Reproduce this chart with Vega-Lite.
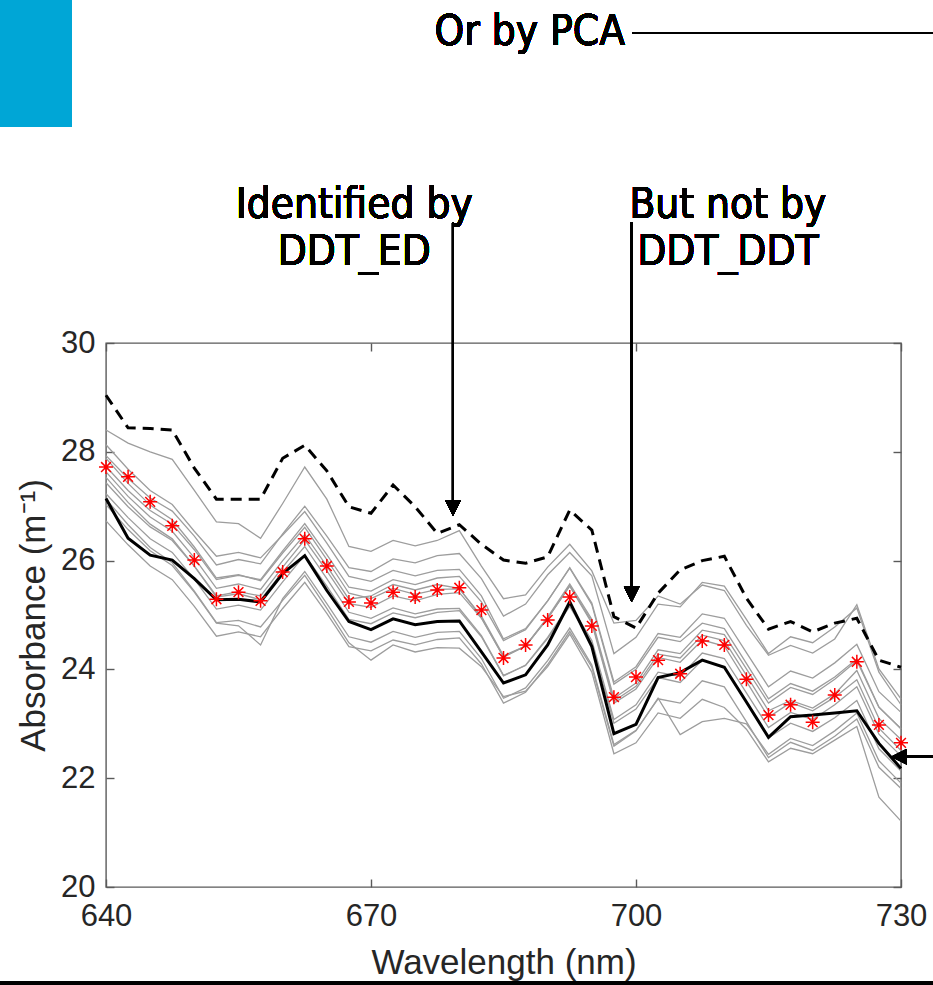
{
  "$schema": "https://vega.github.io/schema/vega-lite/v6.json",
  "width": 795,
  "height": 544,
  "autosize": {"type": "none"},
  "padding": {"left": 106, "top": 343, "right": 32, "bottom": 98},
  "background": "white",
  "config": {
    "view": {"stroke": "#5a5a5a", "strokeWidth": 1.4},
    "axis": {
      "domain": false,
      "grid": false,
      "labelFlush": false,
      "tickColor": "#5a5a5a",
      "tickWidth": 1.4,
      "tickSize": -8,
      "labelFont": "Liberation Sans",
      "labelFontSize": 31,
      "labelColor": "#262626",
      "titleFont": "Liberation Sans",
      "titleFontSize": 35,
      "titleFontWeight": "normal",
      "titleColor": "#262626"
    }
  },
  "data": {
    "values": [
      {"w": 640, "r": 27.72, "k": 27.14, "d": 29.04, "g1": 28.40, "g2": 27.93, "g3": 28.13, "g4": 27.73, "g5": 27.88, "g6": 27.63, "g7": 27.43, "g8": 27.53, "g9": 27.23, "g10": 27.03, "g11": 26.73, "g12": 27.13},
      {"w": 642.5, "r": 27.54, "k": 26.41, "d": 28.44, "g1": 28.16, "g2": 27.51, "g3": 27.68, "g4": 27.29, "g5": 27.42, "g6": 27.18, "g7": 26.99, "g8": 27.07, "g9": 26.79, "g10": 26.57, "g11": 26.29, "g12": 26.66},
      {"w": 645, "r": 27.08, "k": 26.10, "d": 28.43, "g1": 28.00, "g2": 27.15, "g3": 27.29, "g4": 26.92, "g5": 27.02, "g6": 26.80, "g7": 26.62, "g8": 26.67, "g9": 26.40, "g10": 26.18, "g11": 25.90, "g12": 26.24},
      {"w": 647.5, "r": 26.64, "k": 26.01, "d": 28.40, "g1": 27.86, "g2": 26.91, "g3": 27.03, "g4": 26.67, "g5": 26.75, "g6": 26.54, "g7": 26.37, "g8": 26.40, "g9": 26.15, "g10": 25.91, "g11": 25.65, "g12": 25.96},
      {"w": 650, "r": 26.01, "k": 25.67, "d": 27.70, "g1": 27.29, "g2": 26.45, "g3": 26.54, "g4": 26.20, "g5": 26.25, "g6": 26.05, "g7": 25.90, "g8": 25.90, "g9": 25.66, "g10": 25.42, "g11": 25.16, "g12": 25.44},
      {"w": 652.5, "r": 25.29, "k": 25.28, "d": 27.13, "g1": 26.71, "g2": 25.92, "g3": 26.08, "g4": 25.65, "g5": 25.68, "g6": 25.49, "g7": 25.35, "g8": 25.33, "g9": 25.11, "g10": 24.85, "g11": 24.61, "g12": 24.86},
      {"w": 655, "r": 25.42, "k": 25.29, "d": 27.13, "g1": 26.68, "g2": 26.02, "g3": 26.15, "g4": 25.73, "g5": 25.74, "g6": 25.57, "g7": 25.43, "g8": 25.39, "g9": 25.18, "g10": 24.80, "g11": 24.69, "g12": 24.90},
      {"w": 657.5, "r": 25.26, "k": 25.24, "d": 27.13, "g1": 26.41, "g2": 25.94, "g3": 26.05, "g4": 25.65, "g5": 25.63, "g6": 25.47, "g7": 25.35, "g8": 25.28, "g9": 25.09, "g10": 24.45, "g11": 24.60, "g12": 24.78},
      {"w": 660, "r": 25.79, "k": 25.76, "d": 27.88, "g1": 27.05, "g2": 26.49, "g3": 26.47, "g4": 26.18, "g5": 26.14, "g6": 26.00, "g7": 25.88, "g8": 25.79, "g9": 25.61, "g10": 25.30, "g11": 25.12, "g12": 25.27},
      {"w": 662.5, "r": 26.40, "k": 26.09, "d": 28.12, "g1": 27.72, "g2": 27.00, "g3": 26.90, "g4": 26.68, "g5": 26.61, "g6": 26.48, "g7": 26.38, "g8": 26.26, "g9": 26.10, "g10": 25.80, "g11": 25.60, "g12": 25.73},
      {"w": 665, "r": 25.90, "k": 25.45, "d": 27.65, "g1": 27.13, "g2": 26.45, "g3": 26.32, "g4": 26.11, "g5": 26.02, "g6": 25.90, "g7": 25.81, "g8": 25.67, "g9": 25.53, "g10": 25.21, "g11": 25.03, "g12": 25.12},
      {"w": 667.5, "r": 25.24, "k": 24.88, "d": 26.99, "g1": 26.26, "g2": 25.87, "g3": 25.71, "g4": 25.51, "g5": 25.40, "g6": 25.29, "g7": 25.21, "g8": 25.05, "g9": 24.92, "g10": 24.60, "g11": 24.42, "g12": 24.49},
      {"w": 670, "r": 25.22, "k": 24.73, "d": 26.87, "g1": 26.17, "g2": 25.80, "g3": 25.62, "g4": 25.44, "g5": 25.30, "g6": 25.35, "g7": 25.14, "g8": 24.94, "g9": 24.84, "g10": 24.50, "g11": 24.34, "g12": 24.17},
      {"w": 672.5, "r": 25.42, "k": 24.93, "d": 27.39, "g1": 26.37, "g2": 26.03, "g3": 25.82, "g4": 25.65, "g5": 25.49, "g6": 25.56, "g7": 25.35, "g8": 25.13, "g9": 25.04, "g10": 24.70, "g11": 24.54, "g12": 24.45},
      {"w": 675, "r": 25.33, "k": 24.82, "d": 26.99, "g1": 26.27, "g2": 25.96, "g3": 25.72, "g4": 25.56, "g5": 25.38, "g6": 25.46, "g7": 25.26, "g8": 25.02, "g9": 24.95, "g10": 24.59, "g11": 24.45, "g12": 24.32},
      {"w": 677.5, "r": 25.46, "k": 24.88, "d": 26.50, "g1": 26.37, "g2": 26.09, "g3": 25.82, "g4": 25.68, "g5": 25.47, "g6": 25.56, "g7": 25.38, "g8": 25.11, "g9": 25.05, "g10": 24.68, "g11": 24.55, "g12": 24.40},
      {"w": 680, "r": 25.50, "k": 24.89, "d": 26.66, "g1": 26.55, "g2": 26.13, "g3": 25.84, "g4": 25.71, "g5": 25.48, "g6": 25.49, "g7": 25.41, "g8": 25.12, "g9": 25.08, "g10": 24.70, "g11": 24.58, "g12": 24.39},
      {"w": 682.5, "r": 25.09, "k": 24.32, "d": 26.30, "g1": 25.90, "g2": 25.67, "g3": 25.35, "g4": 25.24, "g5": 24.98, "g6": 24.95, "g7": 24.94, "g8": 24.62, "g9": 24.60, "g10": 24.20, "g11": 24.10, "g12": 24.05},
      {"w": 685, "r": 24.21, "k": 23.75, "d": 26.01, "g1": 25.30, "g2": 24.98, "g3": 24.56, "g4": 24.53, "g5": 24.25, "g6": 24.23, "g7": 24.23, "g8": 23.89, "g9": 23.88, "g10": 23.47, "g11": 23.38, "g12": 23.50},
      {"w": 687.5, "r": 24.45, "k": 23.90, "d": 25.95, "g1": 25.37, "g2": 25.20, "g3": 24.75, "g4": 24.73, "g5": 24.43, "g6": 24.43, "g7": 24.43, "g8": 24.07, "g9": 24.08, "g10": 23.66, "g11": 23.58, "g12": 23.60},
      {"w": 690, "r": 24.91, "k": 24.45, "d": 26.07, "g1": 25.88, "g2": 25.74, "g3": 25.26, "g4": 25.26, "g5": 24.94, "g6": 24.94, "g7": 24.96, "g8": 24.57, "g9": 24.59, "g10": 24.16, "g11": 24.09, "g12": 24.05},
      {"w": 692.5, "r": 25.33, "k": 25.24, "d": 26.93, "g1": 26.30, "g2": 26.15, "g3": 25.86, "g4": 25.87, "g5": 25.53, "g6": 25.54, "g7": 25.57, "g8": 25.16, "g9": 25.20, "g10": 24.76, "g11": 24.70, "g12": 24.65},
      {"w": 695, "r": 24.80, "k": 24.42, "d": 26.56, "g1": 25.81, "g2": 25.72, "g3": 25.19, "g4": 25.22, "g5": 24.85, "g6": 24.88, "g7": 24.92, "g8": 24.48, "g9": 24.53, "g10": 24.08, "g11": 24.04, "g12": 23.95},
      {"w": 697.5, "r": 23.49, "k": 22.82, "d": 24.97, "g1": 24.85, "g2": 24.29, "g3": 23.73, "g4": 23.77, "g5": 23.38, "g6": 23.42, "g7": 23.47, "g8": 23.01, "g9": 23.08, "g10": 22.62, "g11": 22.59, "g12": 22.45},
      {"w": 700, "r": 23.86, "k": 22.99, "d": 24.76, "g1": 24.90, "g2": 24.59, "g3": 24.00, "g4": 24.05, "g5": 23.64, "g6": 23.69, "g7": 23.75, "g8": 23.27, "g9": 23.35, "g10": 22.88, "g11": 22.87, "g12": 22.65},
      {"w": 702.5, "r": 24.17, "k": 23.85, "d": 25.40, "g1": 25.35, "g2": 25.20, "g3": 24.59, "g4": 24.66, "g5": 24.22, "g6": 24.28, "g7": 24.36, "g8": 23.85, "g9": 23.95, "g10": 23.46, "g11": 23.47, "g12": 23.20},
      {"w": 705, "r": 23.92, "k": 23.94, "d": 25.83, "g1": 25.20, "g2": 25.15, "g3": 24.51, "g4": 24.59, "g5": 24.13, "g6": 24.21, "g7": 24.29, "g8": 23.76, "g9": 23.87, "g10": 23.38, "g11": 22.80, "g12": 23.10},
      {"w": 707.5, "r": 24.52, "k": 24.17, "d": 26.00, "g1": 25.55, "g2": 25.60, "g3": 24.85, "g4": 25.02, "g5": 24.54, "g6": 24.63, "g7": 24.72, "g8": 24.17, "g9": 24.30, "g10": 23.79, "g11": 23.04, "g12": 23.45},
      {"w": 710, "r": 24.45, "k": 24.04, "d": 26.08, "g1": 25.45, "g2": 25.53, "g3": 24.75, "g4": 24.94, "g5": 24.43, "g6": 24.53, "g7": 24.64, "g8": 24.05, "g9": 24.20, "g10": 23.68, "g11": 23.10, "g12": 23.30},
      {"w": 712.5, "r": 23.82, "k": 23.40, "d": 25.31, "g1": 24.81, "g2": 24.92, "g3": 24.11, "g4": 24.31, "g5": 23.78, "g6": 23.89, "g7": 24.01, "g8": 23.40, "g9": 23.57, "g10": 23.04, "g11": 23.00, "g12": 22.90},
      {"w": 715, "r": 23.16, "k": 22.75, "d": 24.74, "g1": 24.26, "g2": 24.29, "g3": 23.46, "g4": 23.68, "g5": 23.12, "g6": 23.24, "g7": 23.38, "g8": 22.74, "g9": 22.93, "g10": 22.38, "g11": 22.44, "g12": 22.30},
      {"w": 717.5, "r": 23.35, "k": 23.13, "d": 24.88, "g1": 24.44, "g2": 24.60, "g3": 23.74, "g4": 23.97, "g5": 23.39, "g6": 23.43, "g7": 23.67, "g8": 23.01, "g9": 23.21, "g10": 22.66, "g11": 22.73, "g12": 22.55},
      {"w": 720, "r": 23.03, "k": 23.16, "d": 24.69, "g1": 24.30, "g2": 24.49, "g3": 23.60, "g4": 23.84, "g5": 23.24, "g6": 23.29, "g7": 23.54, "g8": 22.86, "g9": 23.08, "g10": 22.51, "g11": 22.60, "g12": 22.45},
      {"w": 722.5, "r": 23.53, "k": 23.20, "d": 24.85, "g1": 24.56, "g2": 24.78, "g3": 23.86, "g4": 24.12, "g5": 23.49, "g6": 23.55, "g7": 23.82, "g8": 23.11, "g9": 23.35, "g10": 22.77, "g11": 22.87, "g12": 22.70},
      {"w": 725, "r": 24.14, "k": 23.24, "d": 24.94, "g1": 25.19, "g2": 25.13, "g3": 24.19, "g4": 24.46, "g5": 23.81, "g6": 23.98, "g7": 24.16, "g8": 23.43, "g9": 23.68, "g10": 23.09, "g11": 23.20, "g12": 22.95},
      {"w": 727.5, "r": 22.98, "k": 22.64, "d": 24.17, "g1": 24.01, "g2": 23.95, "g3": 23.31, "g4": 23.59, "g5": 22.92, "g6": 23.10, "g7": 23.30, "g8": 22.54, "g9": 22.81, "g10": 22.20, "g11": 22.32, "g12": 21.65},
      {"w": 730, "r": 22.65, "k": 22.18, "d": 24.04, "g1": 23.46, "g2": 23.35, "g3": 22.91, "g4": 23.21, "g5": 22.51, "g6": 22.71, "g7": 22.91, "g8": 22.13, "g9": 22.41, "g10": 21.81, "g11": 21.91, "g12": 21.21}
    ]
  },
  "resolve": {"axis": {"x": "independent", "y": "independent"}},
  "layer": [
    {
      "transform": [{"fold": ["g1", "g2", "g3", "g4", "g5", "g6", "g7", "g8", "g9", "g10", "g11", "g12"], "as": ["series", "value"]}],
      "mark": {"type": "line", "color": "#9d9d9d", "strokeWidth": 1.3},
      "encoding": {
        "x": {"field": "w", "type": "quantitative", "scale": {"domain": [640, 730], "nice": false, "zero": false},
          "axis": {"orient": "bottom", "values": [640, 670, 700, 730], "title": "Wavelength (nm)", "labelPadding": 22, "titlePadding": 14}},
        "y": {"field": "value", "type": "quantitative", "scale": {"domain": [20, 30], "nice": false, "zero": false},
          "axis": {"orient": "left", "values": [20, 22, 24, 26, 28, 30], "title": "Absorbance (m⁻¹)", "labelPadding": 19, "titlePadding": 9}},
        "detail": {"field": "series", "type": "nominal"}
      }
    },
    {
      "mark": {"type": "line", "color": "#000000", "strokeWidth": 3, "strokeDash": [11, 7]},
      "encoding": {
        "x": {"field": "w", "type": "quantitative", "scale": {"domain": [640, 730], "nice": false, "zero": false}, "axis": null},
        "y": {"field": "d", "type": "quantitative", "scale": {"domain": [20, 30], "nice": false, "zero": false}, "axis": null}
      }
    },
    {
      "mark": {"type": "line", "color": "#000000", "strokeWidth": 3},
      "encoding": {
        "x": {"field": "w", "type": "quantitative", "scale": {"domain": [640, 730], "nice": false, "zero": false}, "axis": null},
        "y": {"field": "k", "type": "quantitative", "scale": {"domain": [20, 30], "nice": false, "zero": false}, "axis": null}
      }
    },
    {
      "mark": {"type": "point", "shape": "M0,-1L0,1M-1,0L1,0M-0.7,-0.7L0.7,0.7M-0.7,0.7L0.7,-0.7", "size": 196, "color": "#ff0000", "filled": false, "opacity": 1, "strokeWidth": 1.5},
      "encoding": {
        "x": {"field": "w", "type": "quantitative", "scale": {"domain": [640, 730], "nice": false, "zero": false}, "axis": null},
        "y": {"field": "r", "type": "quantitative", "scale": {"domain": [20, 30], "nice": false, "zero": false}, "axis": null}
      }
    },
    {
      "mark": {"type": "point", "opacity": 0},
      "encoding": {
        "x": {"field": "w", "type": "quantitative", "scale": {"domain": [640, 730], "nice": false, "zero": false},
          "axis": {"orient": "top", "values": [640, 670, 700, 730], "labels": false, "title": null}},
        "y": {"field": "r", "type": "quantitative", "scale": {"domain": [20, 30], "nice": false, "zero": false},
          "axis": {"orient": "right", "values": [20, 22, 24, 26, 28, 30], "labels": false, "title": null}}
      }
    },
    {
      "mark": {"type": "rect", "color": "#00a6d6"},
      "encoding": {
        "x": {"datum": 627.9, "type": "quantitative", "axis": null},
        "x2": {"datum": 636.15},
        "y": {"datum": 36.4, "type": "quantitative", "axis": null},
        "y2": {"datum": 33.97}
      }
    },
    {
      "mark": {"type": "text", "text": "Or by PCA", "font": "DejaVu Sans Condensed, DejaVu Sans", "fontSize": 42, "align": "right", "baseline": "alphabetic", "color": "#000000"},
      "encoding": {
        "x": {"datum": 698.76, "type": "quantitative", "axis": null},
        "y": {"datum": 35.48, "type": "quantitative", "axis": null}
      }
    },
    {
      "mark": {"type": "rule", "color": "#000000", "strokeWidth": 1.8},
      "encoding": {
        "x": {"datum": 699.55, "type": "quantitative", "axis": null},
        "x2": {"datum": 734},
        "y": {"datum": 35.70, "type": "quantitative", "axis": null}
      }
    },
    {
      "mark": {"type": "text", "text": ["Identified by", "DDT_ED"], "lineHeight": 47, "font": "DejaVu Sans Condensed, DejaVu Sans", "fontSize": 42, "align": "center", "baseline": "alphabetic", "color": "#000000"},
      "encoding": {
        "x": {"datum": 668.1, "type": "quantitative", "axis": null},
        "y": {"datum": 32.30, "type": "quantitative", "axis": null}
      }
    },
    {
      "mark": {"type": "text", "text": ["But not by", "DDT_DDT"], "lineHeight": 47, "font": "DejaVu Sans Condensed, DejaVu Sans", "fontSize": 42, "align": "center", "baseline": "alphabetic", "color": "#000000"},
      "encoding": {
        "x": {"datum": 710.4, "type": "quantitative", "axis": null},
        "y": {"datum": 32.30, "type": "quantitative", "axis": null}
      }
    },
    {
      "mark": {"type": "rule", "color": "#000000", "strokeWidth": 2},
      "encoding": {
        "x": {"datum": 679.28, "type": "quantitative", "axis": null},
        "y": {"datum": 32.22, "type": "quantitative", "axis": null},
        "y2": {"datum": 27.05}
      }
    },
    {
      "mark": {"type": "point", "shape": "M-1,-1L1,-1L0,1Z", "size": 240, "color": "#000000", "filled": true, "opacity": 1},
      "encoding": {
        "x": {"datum": 679.28, "type": "quantitative", "axis": null},
        "y": {"datum": 26.967, "type": "quantitative", "axis": null}
      }
    },
    {
      "mark": {"type": "rule", "color": "#000000", "strokeWidth": 2},
      "encoding": {
        "x": {"datum": 699.51, "type": "quantitative", "axis": null},
        "y": {"datum": 32.22, "type": "quantitative", "axis": null},
        "y2": {"datum": 25.45}
      }
    },
    {
      "mark": {"type": "point", "shape": "M-1,-1L1,-1L0,1Z", "size": 240, "color": "#000000", "filled": true, "opacity": 1},
      "encoding": {
        "x": {"datum": 699.51, "type": "quantitative", "axis": null},
        "y": {"datum": 25.382, "type": "quantitative", "axis": null}
      }
    },
    {
      "mark": {"type": "rule", "color": "#000000", "strokeWidth": 2},
      "encoding": {
        "x": {"datum": 730.4, "type": "quantitative", "axis": null},
        "x2": {"datum": 734},
        "y": {"datum": 22.395, "type": "quantitative", "axis": null}
      }
    },
    {
      "mark": {"type": "point", "shape": "M1,-1L1,1L-1,0Z", "size": 240, "color": "#000000", "filled": true, "opacity": 1},
      "encoding": {
        "x": {"datum": 729.77, "type": "quantitative", "axis": null},
        "y": {"datum": 22.395, "type": "quantitative", "axis": null}
      }
    },
    {
      "mark": {"type": "rule", "color": "#000000", "strokeWidth": 3.5},
      "encoding": {
        "x": {"datum": 627.9, "type": "quantitative", "axis": null},
        "x2": {"datum": 734},
        "y": {"datum": 18.235, "type": "quantitative", "axis": null}
      }
    }
  ]
}
